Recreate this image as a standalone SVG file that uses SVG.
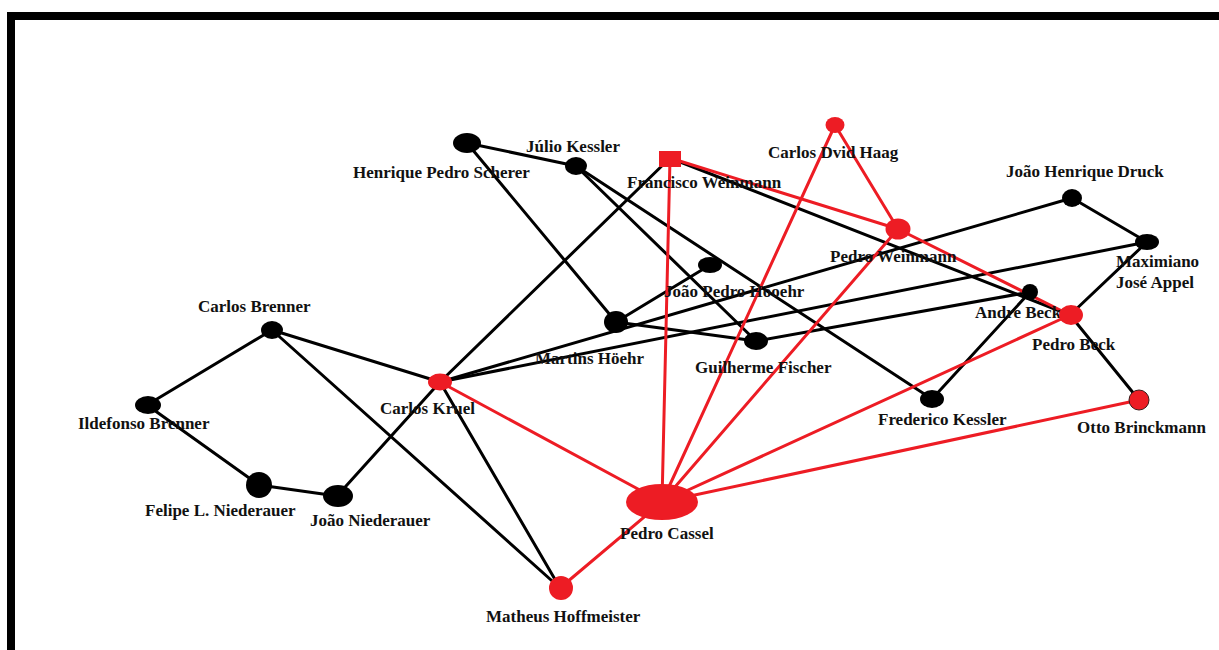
<svg xmlns="http://www.w3.org/2000/svg" width="1219" height="650" viewBox="0 0 1219 650">
<style>
.bg{fill:#fff}
.frame{fill:none;stroke:#000;stroke-width:8}
.e{stroke:#000;stroke-width:3;fill:none;stroke-linecap:round}
.r{stroke:#ed1c24;stroke-width:3;fill:none;stroke-linecap:round}
.nb{fill:#000}
.nr{fill:#ed1c24}
text{font-family:"Liberation Serif","Times New Roman",serif;font-weight:bold;font-size:17px;fill:#111}
</style>
<rect class="bg" x="0" y="0" width="1219" height="650"/>
<path class="frame" d="M11 650 V16 H1219"/>
<g id="connectors">
<line class="e" x1="467" y1="143" x2="576" y2="166"/>
<line class="e" x1="467" y1="143" x2="616" y2="322"/>
<line class="e" x1="576" y1="166" x2="756" y2="341"/>
<line class="e" x1="576" y1="166" x2="932" y2="399"/>
<line class="e" x1="616" y1="322" x2="710" y2="265"/>
<line class="e" x1="616" y1="322" x2="756" y2="341"/>
<line class="e" x1="756" y1="341" x2="1030" y2="292"/>
<line class="e" x1="670" y1="158" x2="1070" y2="315"/>
<line class="e" x1="1072" y1="198" x2="1147" y2="242"/>
<line class="e" x1="1147" y1="242" x2="1070" y2="315"/>
<line class="e" x1="1070" y1="315" x2="1139" y2="400"/>
<line class="e" x1="1030" y1="292" x2="932" y2="399"/>
<line class="e" x1="440" y1="382" x2="1072" y2="198"/>
<line class="e" x1="440" y1="382" x2="1147" y2="242"/>
<line class="e" x1="440" y1="382" x2="670" y2="158"/>
<line class="e" x1="440" y1="382" x2="272" y2="330"/>
<line class="e" x1="440" y1="382" x2="337" y2="496"/>
<line class="e" x1="440" y1="382" x2="560" y2="588"/>
<line class="e" x1="272" y1="330" x2="147" y2="405"/>
<line class="e" x1="272" y1="330" x2="560" y2="588"/>
<line class="e" x1="147" y1="405" x2="259" y2="485"/>
<line class="e" x1="259" y1="485" x2="337" y2="496"/>
<line class="r" x1="670" y1="158" x2="898" y2="229"/>
<line class="r" x1="898" y1="229" x2="1070" y2="315"/>
<line class="r" x1="835" y1="125" x2="898" y2="229"/>
<line class="r" x1="835" y1="125" x2="662" y2="502"/>
<line class="r" x1="898" y1="229" x2="662" y2="502"/>
<line class="r" x1="670" y1="158" x2="662" y2="502"/>
<line class="r" x1="1070" y1="315" x2="662" y2="502"/>
<line class="r" x1="1139" y1="400" x2="662" y2="502"/>
<line class="r" x1="440" y1="382" x2="662" y2="502"/>
<line class="r" x1="560" y1="588" x2="662" y2="502"/>
</g>
<g id="n-henrique"><ellipse class="nb" cx="467" cy="143" rx="14" ry="10"/><text x="353" y="178">Henrique Pedro Scherer</text></g>
<g id="n-julio"><ellipse class="nb" cx="576" cy="166" rx="11" ry="9"/><text x="526" y="152">Júlio Kessler</text></g>
<g id="n-francisco"><rect class="nr" x="659" y="151" width="22" height="16"/><text x="627" y="188">Francisco Weinmann</text></g>
<g id="n-haag"><ellipse class="nr" cx="835" cy="125" rx="9.5" ry="8"/><text x="768" y="158">Carlos Dvid Haag</text></g>
<g id="n-pedroweinmann"><ellipse class="nr" cx="898" cy="229" rx="12.5" ry="10.5"/><text x="830" y="262">Pedro Weinmann</text></g>
<g id="n-druck"><ellipse class="nb" cx="1072" cy="198" rx="10" ry="9"/><text x="1006" y="177">João Henrique Druck</text></g>
<g id="n-maximiano"><ellipse class="nb" cx="1147" cy="242" rx="12" ry="8"/><text x="1116" y="267">Maximiano</text><text x="1116" y="288">José Appel</text></g>
<g id="n-andrebeck"><ellipse class="nb" cx="1030" cy="292" rx="8" ry="8"/><text x="975" y="318">Andre Beck</text></g>
<g id="n-pedrobeck"><ellipse class="nr" cx="1071" cy="315" rx="12" ry="10"/><text x="1032" y="350">Pedro Beck</text></g>
<g id="n-otto"><circle class="nr" cx="1139" cy="400" r="10" stroke="#3a1a1a" stroke-width="1"/><text x="1077" y="433">Otto Brinckmann</text></g>
<g id="n-frederico"><ellipse class="nb" cx="932" cy="399" rx="12" ry="9"/><text x="878" y="425">Frederico Kessler</text></g>
<g id="n-joaopedro"><ellipse class="nb" cx="710" cy="265" rx="12" ry="8"/><text x="664" y="297">João Pedro Höoehr</text></g>
<g id="n-martins"><ellipse class="nb" cx="616" cy="322" rx="12" ry="11"/><text x="535" y="364">Martins Höehr</text></g>
<g id="n-fischer"><ellipse class="nb" cx="756" cy="341" rx="12" ry="9"/><text x="695" y="373">Guilherme Fischer</text></g>
<g id="n-kruel"><ellipse class="nr" cx="440" cy="382" rx="12" ry="8.5"/><text x="380" y="414">Carlos Kruel</text></g>
<g id="n-carlosbrenner"><ellipse class="nb" cx="272" cy="330" rx="11" ry="9"/><text x="198" y="312">Carlos Brenner</text></g>
<g id="n-ildefonso"><ellipse class="nb" cx="148" cy="405" rx="13" ry="9"/><text x="78" y="429">Ildefonso Brenner</text></g>
<g id="n-felipe"><circle class="nb" cx="259" cy="485" r="13"/><text x="145" y="516">Felipe L. Niederauer</text></g>
<g id="n-joaoniederauer"><ellipse class="nb" cx="338" cy="496" rx="15" ry="11"/><text x="310" y="526">João Niederauer</text></g>
<g id="n-cassel"><ellipse class="nr" cx="662" cy="502" rx="36" ry="18"/><text x="620" y="539">Pedro Cassel</text></g>
<g id="n-matheus"><circle class="nr" cx="561" cy="588" r="12"/><text x="486" y="622">Matheus Hoffmeister</text></g>
</svg>
